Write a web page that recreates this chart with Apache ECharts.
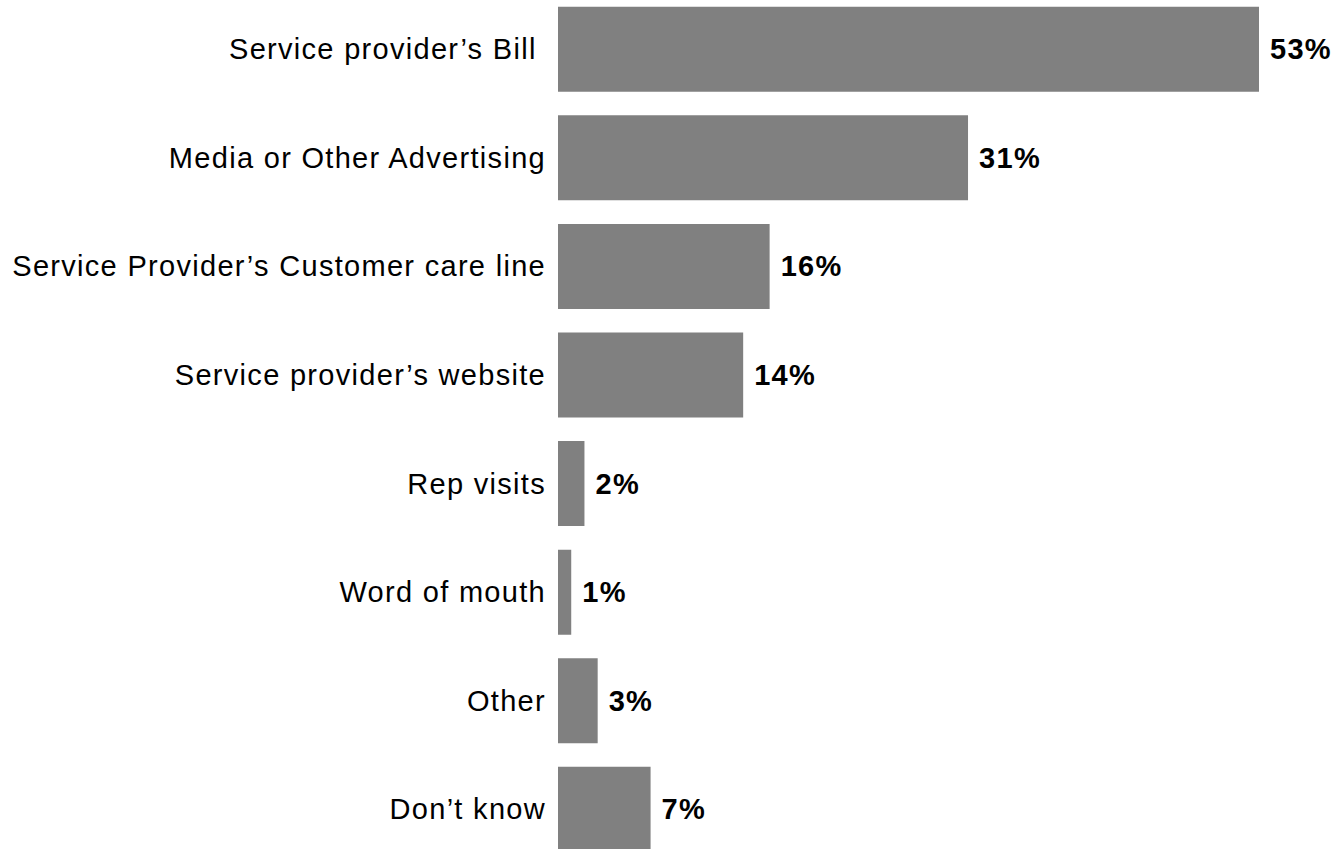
<!DOCTYPE html>
<html>
<head>
<meta charset="utf-8">
<title>Sources of information</title>
<script src="https://cdn.jsdelivr.net/npm/echarts@6/dist/echarts.min.js"></script>
<style>
  html, body { margin: 0; padding: 0; background: #ffffff; }
  #chart { width: 1337px; height: 849px; }
  /* slightly open tracking for all chart text */
  #chart text { letter-spacing: 1.3px; }
</style>
</head>
<body>
<div id="chart"></div>
<script>
// Answer categories, top to bottom
const categories = [
  'Service provider\u2019s Bill ',
  'Media or Other Advertising',
  'Service Provider\u2019s Customer care line',
  'Service provider\u2019s website',
  'Rep visits',
  'Word of mouth',
  'Other',
  'Don\u2019t know'
];

// Share of respondents, percent
const shares = [53, 31, 16, 14, 2, 1, 3, 7];

const xMax = 60;

const chart = echarts.init(document.getElementById('chart'), null, { renderer: 'svg' });

chart.setOption({
  backgroundColor: '#ffffff',
  animation: false,
  grid: {
    left: 558,
    top: -5,
    width: 793.6,
    height: 868.6,
    containLabel: false,
    outerBoundsMode: 'none'
  },
  xAxis: {
    type: 'value',
    min: 0,
    max: xMax,
    show: false
  },
  yAxis: {
    type: 'category',
    data: categories,
    inverse: true,
    axisLine: { show: false },
    axisTick: { show: false },
    splitLine: { show: false },
    axisLabel: {
      color: '#000000',
      fontFamily: 'Liberation Sans, Arial, sans-serif',
      fontSize: 29,
      margin: 12,
      padding: [9, 0, 0, 0]
    }
  },
  series: [{
    type: 'bar',
    data: shares,
    barCategoryGap: '21.7%',
    itemStyle: { color: '#808080' },
    label: {
      show: true,
      position: 'right',
      distance: 11,
      formatter: '{c}%',
      color: '#000000',
      fontFamily: 'Liberation Sans, Arial, sans-serif',
      fontWeight: 'bold',
      fontSize: 29
    }
  }]
});
</script>
</body>
</html>
